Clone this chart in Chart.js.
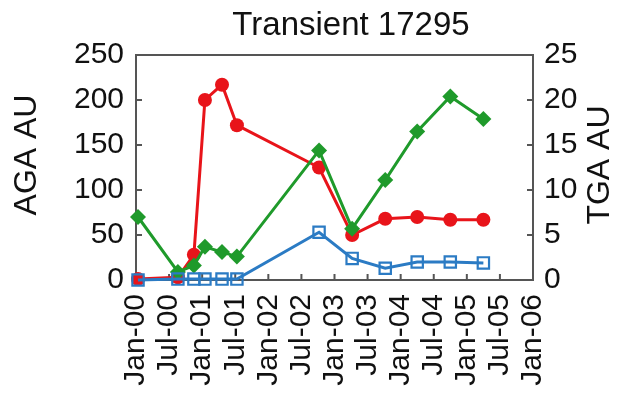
<!DOCTYPE html>
<html>
<head>
<meta charset="utf-8">
<script src="https://cdn.jsdelivr.net/npm/chart.js@4"></script>
<style>
    html, body { margin: 0; padding: 0; background: #fff; }
    #wrap { width: 620px; height: 397px; }
</style>
</head>
<body>
<div id="wrap"><canvas id="chart" width="620" height="397"></canvas></div>
<script>
// ---------------- Data ----------------
const sampleDates = ['2000-01-12', '2000-08-19', '2000-11-16', '2001-01-16', '2001-04-19', '2001-07-10',
                     '2002-10-07', '2003-04-07', '2003-10-07', '2004-04-01', '2004-10-01', '2005-04-01'];
const agaValues  = [1, 3, 28, 200, 217, 172, 125, 50, 68, 70, 67, 67];          // red, left axis
const tgaValues  = [7.0, 0.9, 1.6, 3.7, 3.1, 2.6, 14.4, 5.7, 11.1, 16.5, 20.4, 17.9]; // green, right axis
const blueValues = [0, 1, 1, 1, 1, 1, 53, 24, 13, 20, 20, 19];                  // blue, left axis
const xTickLabels = ['Jan-00', 'Jul-00', 'Jan-01', 'Jul-01', 'Jan-02', 'Jul-02', 'Jan-03',
                     'Jul-03', 'Jan-04', 'Jul-04', 'Jan-05', 'Jul-05', 'Jan-06'];
const leftTicks  = [0, 50, 100, 150, 200, 250];
const rightTicks = [0, 5, 10, 15, 20, 25];

const RED = '#e8141a';
const GREEN = '#1f9a2b';
const BLUE = '#2b7bc4';
const FONT = "'Liberation Sans', Arial, sans-serif";

// months since Jan-00 (no date adapter offline)
function toMonths(d) {
    const [y, m, day] = d.split('-').map(Number);
    return (y - 2000) * 12 + (m - 1) + (day - 1) / 30;
}
const xs = sampleDates.map(toMonths);
const pts = vals => vals.map((v, i) => ({ x: xs[i], y: v }));

// box + inward ticks + titles
const frame = {
    id: 'frame',
    beforeDatasetsDraw(chart) {
        const { ctx, chartArea: a, scales } = chart;
        ctx.save();
        ctx.strokeStyle = '#555';
        ctx.lineWidth = 2;
        ctx.strokeRect(a.left, a.top, a.right - a.left, a.bottom - a.top);
        ctx.beginPath();
        scales.x.ticks.forEach(t => {
            const px = scales.x.getPixelForValue(t.value);
            ctx.moveTo(px, a.bottom); ctx.lineTo(px, a.bottom - 6);
        });
        scales.y.ticks.forEach(t => {
            const py = scales.y.getPixelForValue(t.value);
            ctx.moveTo(a.left, py); ctx.lineTo(a.left + 6, py);
        });
        scales.y1.ticks.forEach(t => {
            const py = scales.y1.getPixelForValue(t.value);
            ctx.moveTo(a.right, py); ctx.lineTo(a.right - 6, py);
        });
        ctx.stroke();
        ctx.restore();
    },
    afterDraw(chart) {
        const ctx = chart.ctx;
        ctx.save();
        ctx.fillStyle = '#111';
        ctx.font = '33px ' + FONT;
        ctx.textAlign = 'center';
        ctx.textBaseline = 'alphabetic';
        ctx.fillText('Transient 17295', 351, 35);
        ctx.font = '32px ' + FONT;
        ctx.textBaseline = 'middle';
        ctx.translate(27, 155);
        ctx.rotate(-Math.PI / 2);
        ctx.fillText('AGA AU', 0, 0);
        ctx.restore();
        ctx.save();
        ctx.fillStyle = '#111';
        ctx.font = '32px ' + FONT;
        ctx.textAlign = 'center';
        ctx.textBaseline = 'middle';
        ctx.translate(600, 165);
        ctx.rotate(-Math.PI / 2);
        ctx.fillText('TGA AU', 0, 0);
        ctx.restore();
    }
};

Chart.defaults.font.family = FONT;
Chart.defaults.font.size = 30;
Chart.defaults.color = '#111';

new Chart(document.getElementById('chart'), {
    type: 'line',
    data: {
        datasets: [
            {
                label: 'blue', data: pts(blueValues), yAxisID: 'y', order: 0,
                borderColor: BLUE, borderWidth: 3, pointStyle: 'rect', pointRadius: 8,
                pointBorderWidth: 2.2, pointBackgroundColor: 'rgba(255,255,255,0)', pointBorderColor: BLUE,
                tension: 0, clip: false
            },
            {
                label: 'TGA', data: pts(tgaValues), yAxisID: 'y1', order: 1,
                borderColor: GREEN, borderWidth: 3, pointStyle: 'rectRot', pointRadius: 8,
                pointBorderWidth: 0, pointBackgroundColor: GREEN, pointBorderColor: GREEN,
                tension: 0, clip: false
            },
            {
                label: 'AGA', data: pts(agaValues), yAxisID: 'y', order: 2,
                borderColor: RED, borderWidth: 3, pointStyle: 'circle', pointRadius: 7,
                pointBorderWidth: 0, pointBackgroundColor: RED, pointBorderColor: RED,
                tension: 0, clip: false
            }
        ]
    },
    options: {
        responsive: false,
        animation: false,
        layout: { padding: { top: 55, left: 0, right: 0, bottom: 0 } },
        plugins: { legend: { display: false }, tooltip: { enabled: false }, title: { display: false } },
        scales: {
            x: {
                type: 'linear', min: 0, max: 72,
                grid: { display: false, drawTicks: false }, border: { display: false },
                ticks: {
                    stepSize: 6, autoSkip: false, minRotation: 90, maxRotation: 90, padding: 14,
                    callback: v => xTickLabels[v / 6] ?? ''
                },
                afterFit: s => { s.height = 117; }
            },
            y: {
                position: 'left', min: 0, max: 250,
                grid: { display: false, drawTicks: false }, border: { display: false },
                ticks: { stepSize: 50, padding: 12, callback: v => leftTicks.includes(v) ? String(v) : '' },
                afterFit: s => { s.width = 136; }
            },
            y1: {
                position: 'right', min: 0, max: 25,
                grid: { display: false, drawTicks: false }, border: { display: false },
                ticks: { stepSize: 5, padding: 11, callback: v => rightTicks.includes(v) ? String(v) : '' },
                afterFit: s => { s.width = 87; }
            }
        }
    },
    plugins: [frame]
});
</script>
</body>
</html>
